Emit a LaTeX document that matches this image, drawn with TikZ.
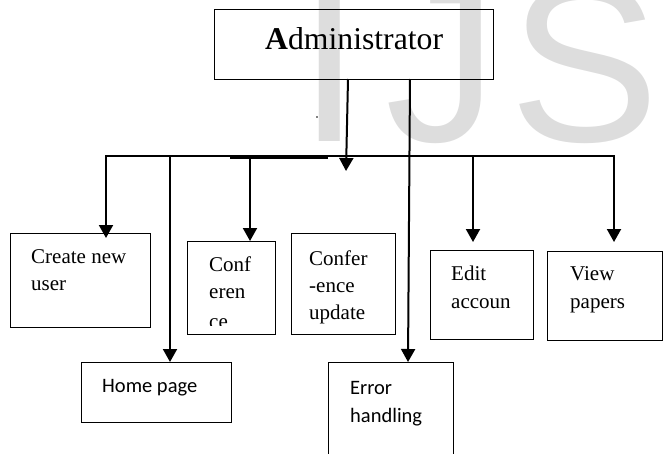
\documentclass[tikz,border=0pt]{standalone}
\usepackage{fontspec}
\setmainfont{Liberation Serif}
\newfontfamily\calfont{Carlito}
\newfontfamily\wmfont{Liberation Sans}
\usetikzlibrary{arrows.meta}
\definecolor{wmgray}{RGB}{221,221,221}
\begin{document}
\begin{tikzpicture}[x=1pt,y=-1pt,
  box/.style={draw,line width=1.4pt,inner sep=0,anchor=north west},
  lbl/.style={inner sep=0,anchor=base west,font=\fontsize{21}{27.5}\selectfont},
  clbl/.style={inner sep=0,anchor=base west,font=\calfont\fontsize{20.5}{28}\selectfont},
  wmark/.style={inner sep=0,anchor=base,text=wmgray,font=\wmfont\fontsize{225}{225}\selectfont},
  link/.style={line width=2pt,line join=miter},
  tip/.style={-{Triangle[width=14pt,length=13pt]}},
  arr/.style={link,tip},
]
\useasboundingbox (0,0) rectangle (663,453);
% watermark
\node[wmark] (wI) at (330,141) {I};
\node[wmark] (wJ) at (442,141) {J};
\node[wmark] (wS) at (585,141) {S};

% boxes
\node[box,minimum width=279pt,minimum height=70pt] (admin) at (214,9) {};
\node[box,minimum width=140pt,minimum height=94pt] (create) at (10,233) {};
\node[box,minimum width=88pt,minimum height=93pt] (conf) at (187,241) {};
\node[box,minimum width=104pt,minimum height=101pt] (confup) at (291,233) {};
\node[box,minimum width=103pt,minimum height=89pt] (edit) at (430,250) {};
\node[box,minimum width=115pt,minimum height=89pt] (view) at (547,251) {};
\node[box,minimum width=150pt,minimum height=60pt] (home) at (81,362) {};
\node[box,minimum width=125pt,minimum height=95pt] (error) at (328,362) {};

% texts
\node[inner sep=0,anchor=base west,font=\fontsize{31.7}{36}\selectfont] (tadmin) at (265,49) {\textbf{A}dministrator};
\node[lbl] (tcreate1) at (31,263) {Create new};
\node[lbl] (tcreate2) at (31,290) {user};
\begin{scope}
\clip (187,241) rectangle (275,325);
\node[lbl] (tconf1) at (209,271) {Conf};
\node[lbl] (tconf2) at (209,298) {eren};
\node[lbl] (tconf3) at (209,328) {ce};
\end{scope}
\node[lbl] (tconfup1) at (309,265) {Confer};
\node[lbl] (tconfup2) at (309,292) {-ence};
\node[lbl] (tconfup3) at (309,319) {update};
\node[lbl] (tedit1) at (451,280) {Edit};
\node[lbl] (tedit2) at (451,308) {accoun};
\node[lbl] (tview1) at (570,280) {View};
\node[lbl] (tview2) at (570,308) {papers};
\node[clbl] (thome) at (102,392) {Home page};
\node[clbl] (terror1) at (350,394) {Error};
\node[clbl] (terror2) at (350,422) {handling};

% small dot
\fill (317,117) circle (0.9);

% connectors
\coordinate (aTop) at (348,79);
\coordinate (aTip) at (346,171);
\coordinate (busL) at (106,156);
\coordinate (busR) at (614,156);
\coordinate (createTip) at (106,238);
\coordinate (viewTip) at (614,242);
\coordinate (hTop) at (170,156);
\coordinate (cTop) at (250,157);
\coordinate (seg1) at (230,157.5);
\coordinate (seg2) at (328,157.5);
\coordinate (eTop) at (410,79);
\coordinate (eBot) at (408,362);
\coordinate (edTop) at (473,156);
\coordinate (edTip) at (473,242);

\draw[arr] (aTop) -- (aTip);
\draw[link,{Triangle[width=14pt,length=13pt]}-{Triangle[width=14pt,length=13pt]}] (createTip) -- (busL) -- (busR) -- (viewTip);
\draw[link] (seg1) -- (seg2);
\draw[arr] (hTop) -- (hTop |- home.north);
\draw[arr] (cTop) -- (cTop |- conf.north);
\draw[arr] (eTop) -- (eBot);
\draw[arr] (edTop) -- (edTip);
\end{tikzpicture}
\end{document}
